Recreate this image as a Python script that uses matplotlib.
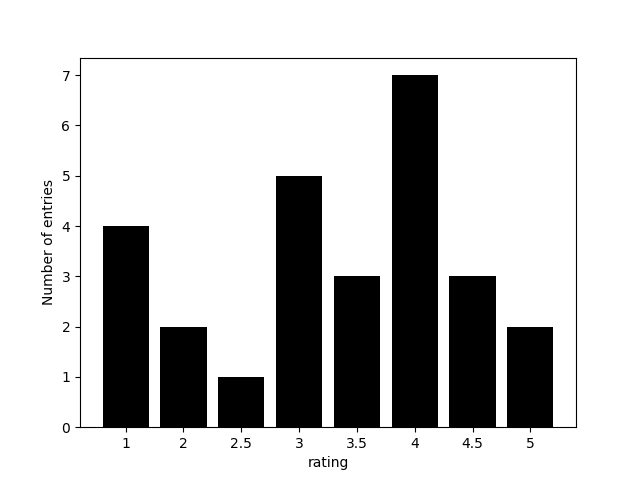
import matplotlib
matplotlib.use("Agg")
import matplotlib.pyplot as plt

ratings = ["1", "2", "2.5", "3", "3.5", "4", "4.5", "5"]
counts = [4, 2, 1, 5, 3, 7, 3, 2]

fig, ax = plt.subplots(figsize=(6.4, 4.8), dpi=100)
ax.bar(ratings, counts, color="black")
ax.set_xlabel("rating")
ax.set_ylabel("Number of entries")
fig.savefig("out.png")
